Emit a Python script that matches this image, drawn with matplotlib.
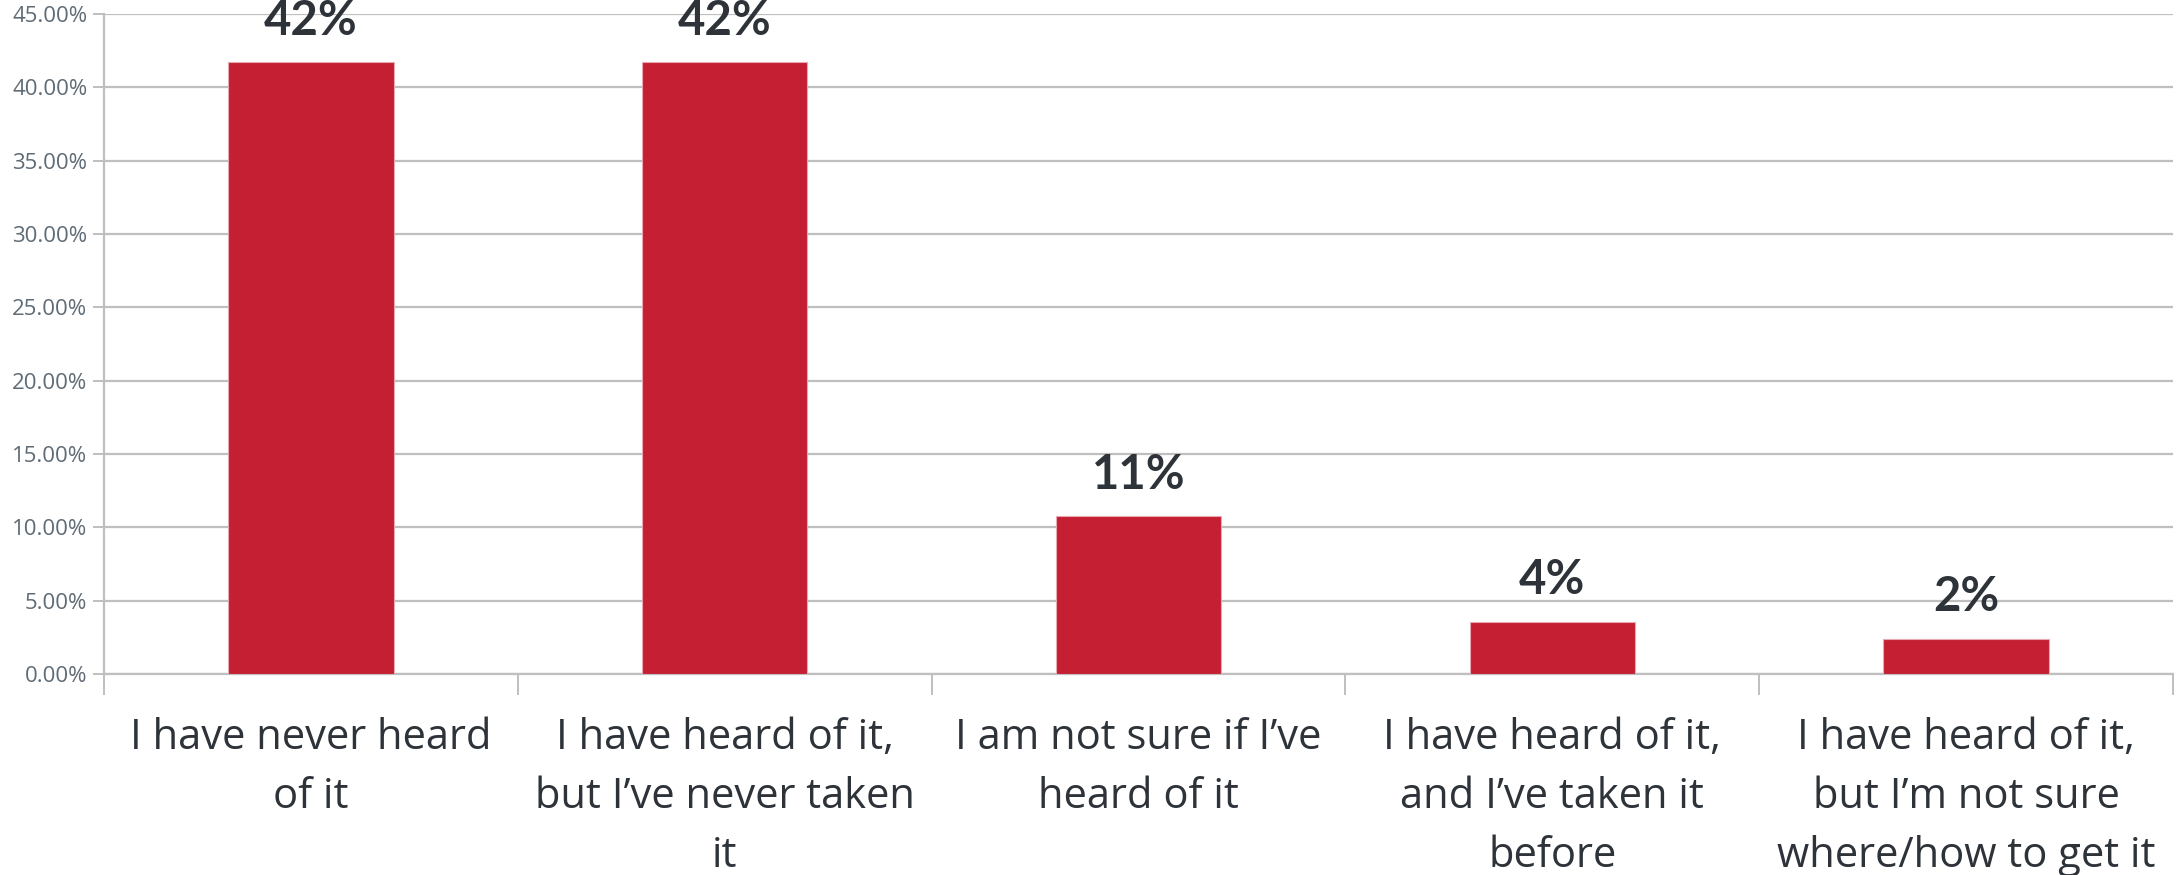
import matplotlib
matplotlib.use("Agg")
import matplotlib.pyplot as plt
from matplotlib.ticker import FixedLocator, PercentFormatter

categories = [
    "I have never heard\nof it",
    "I have heard of it,\nbut I\u2019ve never taken\nit",
    "I am not sure if I\u2019ve\nheard of it",
    "I have heard of it,\nand I\u2019ve taken it\nbefore",
    "I have heard of it,\nbut I\u2019m not sure\nwhere/how to get it",
]
values = [0.417, 0.417, 0.1075, 0.0355, 0.024]
value_labels = ["42%", "42%", "11%", "4%", "2%"]
yticks = [0.0, 0.05, 0.10, 0.15, 0.20, 0.25, 0.30, 0.35, 0.40, 0.45]

bar_color = "#c41f32"
grid_color = "#bfbfbf"
text_dark = "#2d3339"
tick_grey = "#5f6b75"

fig = plt.figure(figsize=(21.77, 8.75), dpi=100)
ax = fig.add_axes([104 / 2177, 1 - 674 / 875, (2173 - 104) / 2177, (674 - 14) / 875])

x = list(range(len(categories)))
bars = ax.bar(x, values, width=0.4, color=bar_color, edgecolor="#e8aab2",
              linewidth=0.8, zorder=3)

for xi, v, lab in zip(x, values, value_labels):
    ax.annotate(lab, (xi, v), xytext=(0, 14), textcoords="offset points",
                ha="center", va="bottom", fontsize=34, fontweight="bold",
                color=text_dark, family=["Lato", "DejaVu Sans"],
                annotation_clip=False, zorder=4)

ax.set_xlim(-0.5, len(categories) - 0.5)
ax.set_ylim(0, 0.45)
ax.set_yticks(yticks)
ax.yaxis.set_major_formatter(PercentFormatter(1.0, decimals=2))
ax.yaxis.grid(True, color=grid_color, linewidth=1.6, zorder=0)
ax.set_axisbelow(True)

ax.set_xticks(x)
ax.set_xticklabels(categories, fontsize=30, color=text_dark,
                   family=["Open Sans", "DejaVu Sans"], linespacing=1.53)
ax.xaxis.set_minor_locator(FixedLocator([i - 0.5 for i in range(len(categories) + 1)]))
ax.tick_params(axis="x", which="major", length=0, pad=31)
ax.tick_params(axis="x", which="minor", length=15, width=1.4, color=grid_color)
ax.tick_params(axis="y", which="major", length=8, width=1.4, color=grid_color,
               labelsize=16, labelcolor=tick_grey, pad=4)
for lab in ax.get_yticklabels():
    lab.set_family(["Open Sans", "DejaVu Sans"])

for side in ["top", "right"]:
    ax.spines[side].set_visible(False)
ax.spines["left"].set_color(grid_color)
ax.spines["left"].set_linewidth(1.6)
ax.spines["bottom"].set_color(grid_color)
ax.spines["bottom"].set_linewidth(1.6)

fig.savefig("out.png", dpi=100, facecolor="white")
